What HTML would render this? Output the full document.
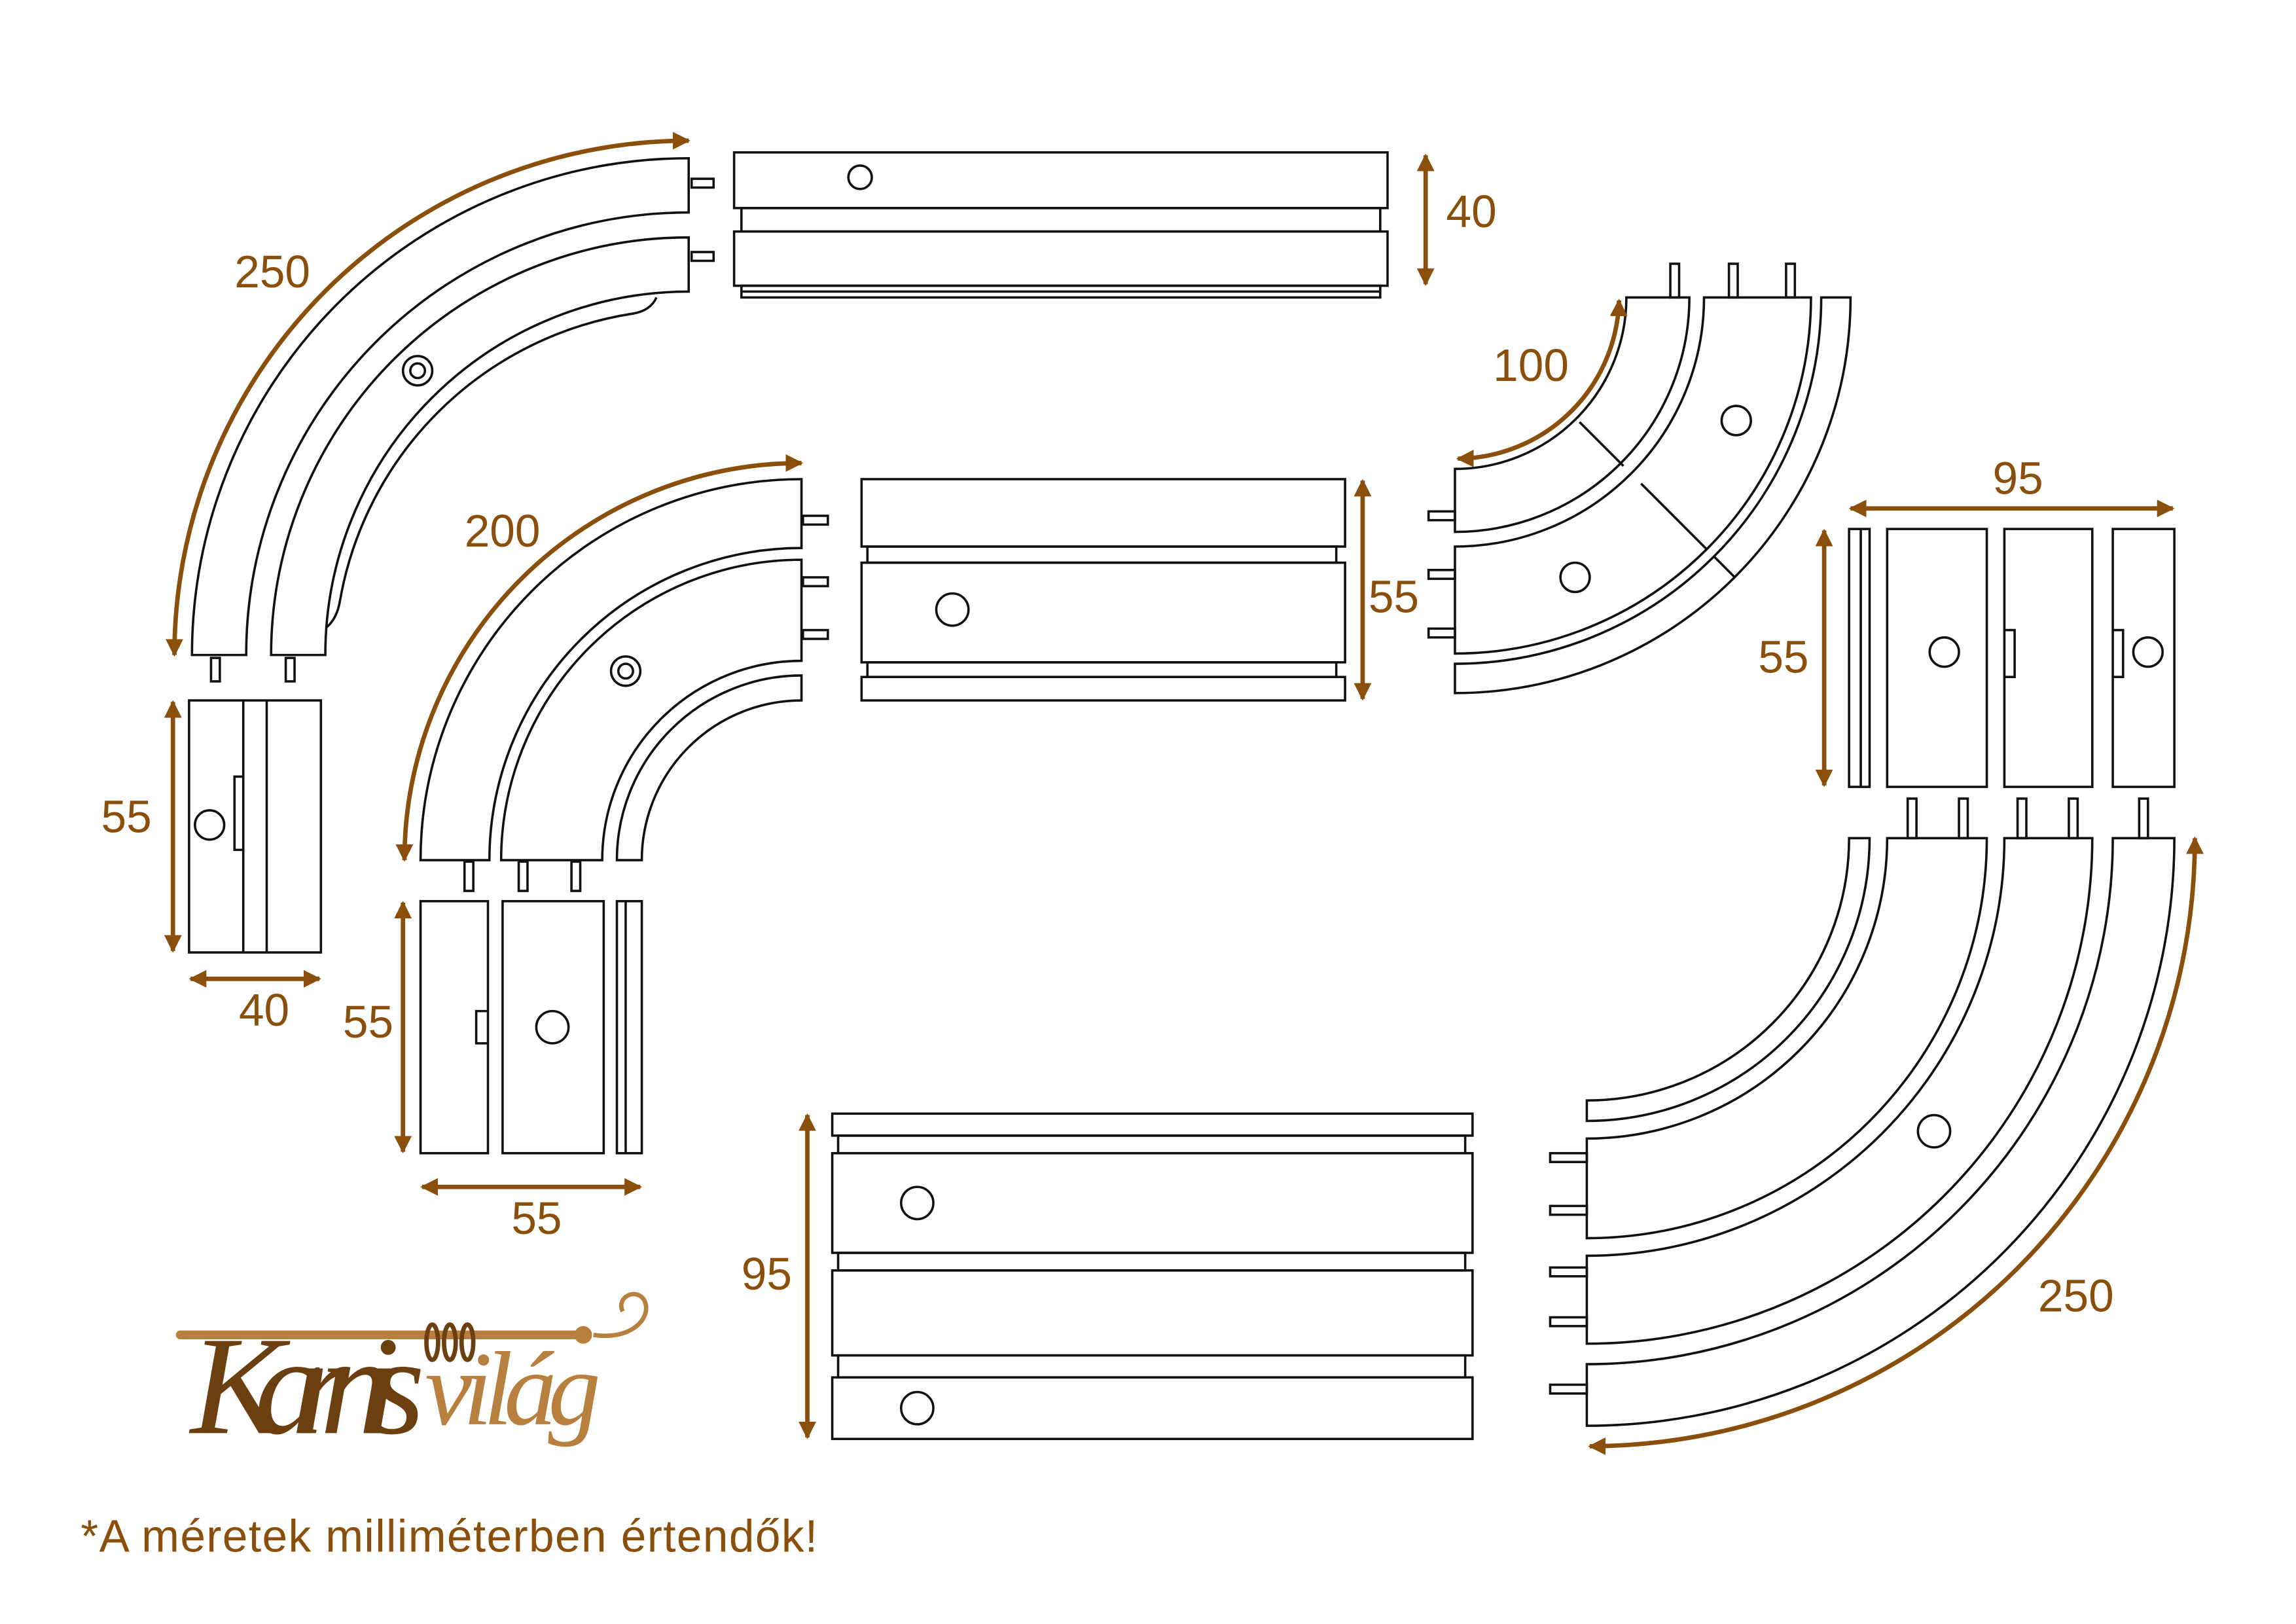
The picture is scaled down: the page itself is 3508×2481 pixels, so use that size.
<!DOCTYPE html>
<html><head><meta charset="utf-8"><style>
html,body{margin:0;padding:0;background:#fff}
svg{display:block}
</style></head><body>
<svg width="3508" height="2481" viewBox="0 0 1567 1108.3" xmlns="http://www.w3.org/2000/svg">
<defs>
<marker id="ah" viewBox="0 0 10 10" refX="9" refY="5" markerWidth="4" markerHeight="4" orient="auto-start-reverse" markerUnits="strokeWidth">
<path d="M0,0 L10,5 L0,10 Z" fill="#8a4f0b"/></marker>
</defs>
<rect width="1567" height="1109" fill="#fff"/>
<g fill="none" stroke="#111" stroke-width="1.6">
<path d="M131,447 A339 339 0 0 1 470,108 L470,145 A302 302 0 0 0 168,447 Z"/>
<path d="M185,447 A285 285 0 0 1 470,162 L470,199 A248 248 0 0 0 222,447 Z"/>
<path d="M448,203 Q444,212 432,214 A240 240 0 0 0 232,410 Q230,422 223,428"/>
<circle cx="285" cy="253" r="10"/><circle cx="285" cy="253" r="5"/>
<rect x="472" y="122" width="15" height="6"/><rect x="472" y="172" width="15" height="6"/>
<rect x="144" y="449" width="6" height="16"/><rect x="195" y="449" width="6" height="16"/>
<rect x="501" y="104" width="446" height="38"/>
<rect x="506" y="142" width="436" height="16"/>
<rect x="501" y="158" width="446" height="37"/>
<rect x="506" y="195" width="436" height="8"/>
<line x1="506" y1="199" x2="942" y2="199"/>
<circle cx="587" cy="121" r="8"/>
<rect x="129" y="478" width="90" height="172"/>
<line x1="166" y1="478" x2="166" y2="650"/><line x1="182" y1="478" x2="182" y2="650"/>
<path d="M166,530 L160,530 L160,580 L166,580"/>
<circle cx="143" cy="563" r="10"/>
<path d="M287,587 A260 260 0 0 1 547,327 L547,374 A213 213 0 0 0 334,587 Z"/>
<path d="M342,587 A205 205 0 0 1 547,382 L547,451 A136 136 0 0 0 411,587 Z"/>
<path d="M421,587 A126 126 0 0 1 547,461 L547,478 A109 109 0 0 0 438,587 Z"/>
<circle cx="427" cy="458" r="10"/><circle cx="427" cy="458" r="5"/>
<rect x="548" y="352" width="17" height="6"/><rect x="548" y="394" width="17" height="6"/><rect x="548" y="430" width="17" height="6"/>
<rect x="317" y="588" width="6" height="20"/><rect x="354" y="588" width="6" height="20"/><rect x="390" y="588" width="6" height="20"/>
<rect x="588" y="327" width="330" height="46"/>
<rect x="592" y="373" width="320" height="11"/>
<rect x="588" y="384" width="330" height="68"/>
<rect x="592" y="452" width="320" height="10"/>
<rect x="588" y="462" width="330" height="16"/>
<circle cx="650" cy="416" r="11"/>
<rect x="287" y="615" width="46" height="172"/>
<rect x="343" y="615" width="69" height="172"/>
<rect x="421" y="615" width="17" height="172"/>
<line x1="427" y1="615" x2="427" y2="787"/>
<path d="M333,690 L325,690 L325,712 L333,712"/>
<circle cx="377" cy="701" r="11"/>
<path d="M993,363 A160 160 0 0 0 1153,203 L1110,203 A117 117 0 0 1 993,320 Z"/>
<path d="M993,446 A243 243 0 0 0 1236,203 L1163,203 A170 170 0 0 1 993,373 Z"/>
<path d="M993,473 A270 270 0 0 0 1263,203 L1243,203 A250 250 0 0 1 993,453 Z"/>
<line x1="1078" y1="288" x2="1108" y2="318"/>
<line x1="1120" y1="330" x2="1165" y2="375"/>
<line x1="1170" y1="380" x2="1184" y2="394"/>
<circle cx="1185" cy="287" r="10"/><circle cx="1075" cy="394" r="10"/>
<rect x="1140" y="180" width="6" height="23"/><rect x="1180" y="180" width="6" height="23"/><rect x="1219" y="180" width="6" height="23"/>
<rect x="975" y="349" width="18" height="6"/><rect x="975" y="389" width="18" height="6"/><rect x="975" y="429" width="18" height="6"/>
<rect x="1262" y="361" width="14" height="176"/>
<line x1="1270" y1="361" x2="1270" y2="537"/>
<rect x="1288" y="361" width="68" height="176"/>
<rect x="1368" y="361" width="60" height="176"/>
<rect x="1442" y="361" width="42" height="176"/>
<path d="M1368,430 L1375,430 L1375,462 L1368,462"/>
<path d="M1442,430 L1449,430 L1449,462 L1442,462"/>
<circle cx="1327" cy="445" r="10"/><circle cx="1466" cy="445" r="10"/>
<path d="M1083,765 A193 193 0 0 0 1276,572 L1262,572 A179 179 0 0 1 1083,751 Z"/>
<path d="M1083,845 A273 273 0 0 0 1356,572 L1288,572 A205 205 0 0 1 1083,777 Z"/>
<path d="M1083,917 A345 345 0 0 0 1428,572 L1368,572 A285 285 0 0 1 1083,857 Z"/>
<path d="M1083,973 A401 401 0 0 0 1484,572 L1442,572 A359 359 0 0 1 1083,931 Z"/>
<circle cx="1320" cy="772" r="11"/>
<rect x="1302" y="545" width="6" height="27"/><rect x="1337" y="545" width="6" height="27"/><rect x="1377" y="545" width="6" height="27"/><rect x="1412" y="545" width="6" height="27"/><rect x="1460" y="545" width="6" height="27"/>
<rect x="1058" y="787" width="25" height="6"/><rect x="1058" y="823" width="25" height="6"/><rect x="1058" y="865" width="25" height="6"/><rect x="1058" y="899" width="25" height="6"/><rect x="1058" y="945" width="25" height="6"/>
<rect x="568" y="760" width="437" height="15"/>
<rect x="572" y="775" width="428" height="12"/>
<rect x="568" y="787" width="437" height="68"/>
<rect x="572" y="855" width="428" height="12"/>
<rect x="568" y="867" width="437" height="58"/>
<rect x="572" y="925" width="428" height="15"/>
<rect x="568" y="940" width="437" height="42"/>
<circle cx="626" cy="821" r="11"/><circle cx="626" cy="961" r="11"/>
</g>
<g fill="none" stroke="#8a4f0b" stroke-width="3" marker-start="url(#ah)" marker-end="url(#ah)">
<path d="M119,447 A351 351 0 0 1 470,96"/>
<path d="M276,587 A271 271 0 0 1 547,316"/>
<path d="M995,313 A111 111 0 0 0 1105,205"/>
<path d="M1085,987 A414 414 0 0 0 1498,572"/>
<line x1="973" y1="106" x2="973" y2="194"/>
<line x1="118" y1="479" x2="118" y2="649"/>
<line x1="130" y1="668" x2="218" y2="668"/>
<line x1="930" y1="328" x2="930" y2="477"/>
<line x1="275" y1="616" x2="275" y2="786"/>
<line x1="288" y1="810" x2="437" y2="810"/>
<line x1="1263" y1="347" x2="1483" y2="347"/>
<line x1="1245" y1="362" x2="1245" y2="536"/>
<line x1="551" y1="761" x2="551" y2="981"/>
</g>
<g fill="#8a4f0b" font-family="'Liberation Sans', sans-serif" font-size="31">
<text x="160" y="196">250</text>
<text x="987" y="155">40</text>
<text x="69" y="568">55</text>
<text x="163" y="700">40</text>
<text x="317" y="373">200</text>
<text x="934" y="418">55</text>
<text x="234" y="708">55</text>
<text x="349" y="842">55</text>
<text x="1019" y="260">100</text>
<text x="1360" y="337">95</text>
<text x="1200" y="459">55</text>
<text x="506" y="880">95</text>
<text x="1391" y="895">250</text>
<text x="55" y="1059" textLength="503">*A méretek milliméterben értendők!</text>
</g>
<rect x="120" y="908" width="280" height="6" rx="3" fill="#b8803f"/>
<circle cx="398" cy="911" r="6" fill="#b8803f"/>
<ellipse cx="295" cy="916" rx="4" ry="12" fill="none" stroke="#6b3f10" stroke-width="3"/>
<ellipse cx="307" cy="916" rx="4" ry="12" fill="none" stroke="#6b3f10" stroke-width="3"/>
<ellipse cx="319" cy="916" rx="4" ry="12" fill="none" stroke="#6b3f10" stroke-width="3"/>
<path d="M405,911 C430,915 445,900 440,888 C435,878 420,885 425,895" fill="none" stroke="#b8803f" stroke-width="3"/>
<text x="130" y="978" font-family="'Liberation Serif', serif" font-style="italic" font-size="96" fill="#6b3f10" textLength="160">Karnis</text>
<text x="290" y="972" font-family="'Liberation Serif', serif" font-style="italic" font-size="72" fill="#b8803f" textLength="120">világ</text>
</svg>
</body></html>
